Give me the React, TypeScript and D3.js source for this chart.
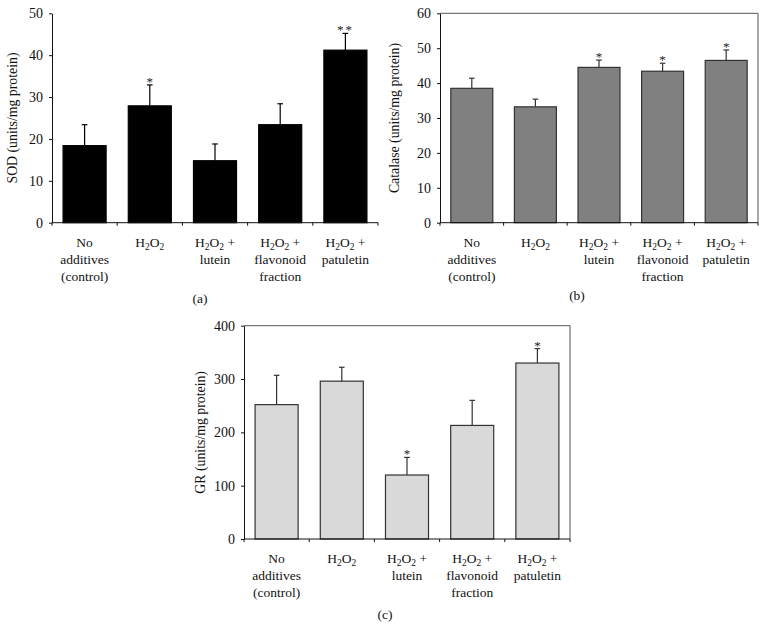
import React, { useEffect, useRef } from "react";
import * as d3 from "d3";

// categories, shared by all three panels
const categories = ["control", "h2o2", "lutein", "flavonoid", "patuletin"];
const categoryLines = [
  ["No", "additives", "(control)"],
  ["H₂O₂"],
  ["H₂O₂ +", "lutein"],
  ["H₂O₂ +", "flavonoid", "fraction"],
  ["H₂O₂ +", "patuletin"],
];

// (a) SOD
const sodMeans = [18.4, 27.9, 14.8, 23.4, 41.2];
const sodErrors = [5.0, 5.0, 4.0, 5.0, 4.0];
const sodStars = ["", "*", "", "", "**"];
const sodTicks = [0, 10, 20, 30, 40, 50];

// (b) Catalase
const catMeans = [38.5, 33.2, 44.5, 43.4, 46.5];
const catErrors = [2.9, 2.2, 2.1, 2.3, 3.0];
const catStars = ["", "", "*", "*", "*"];
const catTicks = [0, 10, 20, 30, 40, 50, 60];

// (c) GR
const grMeans = [252, 296, 120, 213, 330];
const grErrors = [55, 26, 33, 47, 27];
const grStars = ["", "", "*", "", "*"];
const grTicks = [0, 100, 200, 300, 400];

const FONT = "'Liberation Serif', 'Times New Roman', serif";

const panels = [
  {
    letter: "(a)", yLabel: "SOD (units/mg protein)",
    means: sodMeans, errors: sodErrors, stars: sodStars, ticks: sodTicks,
    x0: 52, x1: 378, yTop: 13.3, yZero: 222.7, yLabelX: 17, letterX: 200, letterY: 303,
    fill: "#000", stroke: "#000", frame: false,
  },
  {
    letter: "(b)", yLabel: "Catalase (units/mg protein)",
    means: catMeans, errors: catErrors, stars: catStars, ticks: catTicks,
    x0: 440, x1: 758, yTop: 13.3, yZero: 222.7, yLabelX: 399, letterX: 577, letterY: 300,
    fill: "#808080", stroke: "#333", frame: true,
  },
  {
    letter: "(c)", yLabel: "GR (units/mg protein)",
    means: grMeans, errors: grErrors, stars: grStars, ticks: grTicks,
    x0: 244, x1: 570, yTop: 325.7, yZero: 539, yLabelX: 205, letterX: 385, letterY: 619,
    fill: "#d9d9d9", stroke: "#333", frame: true,
  },
];

// writes text into a <text>, turning "₂" into a real subscript 2
function writeLabel(sel: any, str: string) {
  const parts = str.split("₂");
  parts.forEach((p, i) => {
    const t = sel.append("tspan").text(p);
    if (i > 0) t.attr("dy", -3);
    if (i < parts.length - 1) {
      sel.append("tspan").attr("font-size", 9.5).attr("dy", 3).text("2");
    }
  });
}

const App = () => {
  const ref = useRef<SVGSVGElement>(null);

  useEffect(() => {
    const svg = d3.select(ref.current);
    svg.selectAll("*").remove();

    panels.forEach((p) => {
      const g = svg.append("g").attr("font-family", FONT);
      const domainMax = p.ticks[p.ticks.length - 1];

      const x = d3
        .scaleBand()
        .domain(categories)
        .range([p.x0, p.x1])
        .paddingInner(0.34)
        .paddingOuter(0.17);
      const y = d3.scaleLinear().domain([0, domainMax]).range([p.yZero, p.yTop]);
      const step = x.step();

      // frame (top + right) for b and c
      if (p.frame) {
        g.append("path")
          .attr("d", `M${p.x0},${p.yTop}H${p.x1}V${p.yZero}`)
          .attr("fill", "none")
          .attr("stroke", "#555")
          .attr("stroke-width", 1);
      }

      // bars
      g.selectAll("rect.bar")
        .data(p.means)
        .join("rect")
        .attr("class", "bar")
        .attr("x", (d, i) => x(categories[i]) as number)
        .attr("width", x.bandwidth())
        .attr("y", (d) => y(d))
        .attr("height", (d) => p.yZero - y(d))
        .attr("fill", p.fill)
        .attr("stroke", p.stroke)
        .attr("stroke-width", 1.2);

      // error bars (upper only)
      p.means.forEach((m, i) => {
        const cx = (x(categories[i]) as number) + x.bandwidth() / 2;
        const top = y(m + p.errors[i]);
        g.append("line")
          .attr("x1", cx).attr("x2", cx)
          .attr("y1", y(m)).attr("y2", top)
          .attr("stroke", p.stroke).attr("stroke-width", 1.2);
        g.append("line")
          .attr("x1", cx - 2.8).attr("x2", cx + 2.8)
          .attr("y1", top).attr("y2", top)
          .attr("stroke", p.stroke).attr("stroke-width", 1.2);
        if (p.stars[i]) {
          g.append("text")
            .attr("x", cx)
            .attr("y", top + 1)
            .attr("text-anchor", "middle")
            .attr("font-size", 13)
            .attr("letter-spacing", p.stars[i].length > 1 ? 2 : 0)
            .attr("fill", "#222")
            .text(p.stars[i]);
        }
      });

      // y axis
      const yAxis = g
        .append("g")
        .attr("transform", `translate(${p.x0},0)`)
        .call(d3.axisLeft(y).tickValues(p.ticks).tickSize(3).tickSizeOuter(0).tickPadding(6));
      yAxis.selectAll("text").attr("font-size", 14).attr("font-family", FONT).attr("fill", "#111");
      yAxis.selectAll("line, path").attr("stroke", "#111");

      // x axis line + boundary ticks
      g.append("line")
        .attr("x1", p.x0).attr("x2", p.x1)
        .attr("y1", p.yZero).attr("y2", p.yZero)
        .attr("stroke", "#111");
      d3.range(categories.length + 1).forEach((k) => {
        const tx = p.x0 + k * step;
        g.append("line")
          .attr("x1", tx).attr("x2", tx)
          .attr("y1", p.yZero).attr("y2", p.yZero + 3)
          .attr("stroke", "#111");
      });

      // category labels
      categoryLines.forEach((lines, i) => {
        const cx = (x(categories[i]) as number) + x.bandwidth() / 2;
        lines.forEach((ln, j) => {
          const t = g
            .append("text")
            .attr("x", cx)
            .attr("y", p.yZero + 24 + j * 17)
            .attr("text-anchor", "middle")
            .attr("font-size", 13.5)
            .attr("fill", "#111");
          writeLabel(t, ln);
        });
      });

      // y label
      g.append("text")
        .attr("transform", `translate(${p.yLabelX},${(p.yTop + p.yZero) / 2}) rotate(-90)`)
        .attr("text-anchor", "middle")
        .attr("font-size", 13.8)
        .attr("fill", "#111")
        .text(p.yLabel);

      // panel letter
      g.append("text")
        .attr("x", p.letterX)
        .attr("y", p.letterY)
        .attr("text-anchor", "middle")
        .attr("font-size", 13.5)
        .attr("fill", "#111")
        .text(p.letter);
    });
  }, []);

  return (
    <svg
      ref={ref}
      width={766}
      height={640}
      style={{ position: "absolute", left: 0, top: 0, background: "#fff" }}
    />
  );
};

export default App;
